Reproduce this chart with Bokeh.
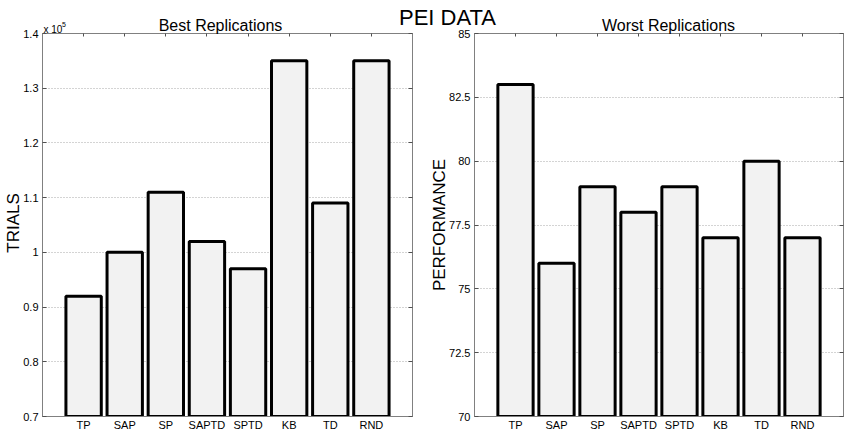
from bokeh.plotting import figure
from bokeh.models import FixedTicker, LinearAxis, CustomJSTickFormatter, Range1d
from bokeh.layouts import row, column
from bokeh.embed import file_html
from bokeh.resources import INLINE
from bokeh.core.properties import value

# ---------------- data ----------------
methods = ["TP", "SAP", "SP", "SAPTD", "SPTD", "KB", "TD", "RND"]
trials = [92000, 100000, 111000, 102000, 97000, 135000, 109000, 135000]
performance = [83, 76, 79, 78, 79, 77, 80, 77]

trial_ticks = [70000, 80000, 90000, 100000, 110000, 120000, 130000, 140000]
trial_tick_labels = ["0.7", "0.8", "0.9", "1", "1.1", "1.2", "1.3", "1.4"]
perf_ticks = [70, 72.5, 75, 77.5, 80, 82.5, 85]
perf_tick_labels = ["70", "72.5", "75", "77.5", "80", "82.5", "85"]

title_main = "PEI DATA"
title_left = "Best Replications"
title_right = "Worst Replications"
ylabel_left = "TRIALS"
ylabel_right = "PERFORMANCE"
exp_base = "x 10"
exp_power = "5"

# ---------------- style ----------------
FONT = "Liberation Sans"
W, H = 850, 434
BORDER_TOP, BORDER_BOTTOM = 33, 18
AXIS_COL = "#808080"
TICK_COL = "#505050"
BAR_FILL = "#f2f2f2"

positions = list(range(1, len(methods) + 1))
x_lo, x_hi = 0, len(methods) + 1


def make_fig(width, bl, br, ylo, yhi, yticks, ylabels, tops):
    p = figure(width=width, height=H, output_backend="svg", toolbar_location=None,
               x_range=Range1d(x_lo, x_hi), y_range=Range1d(ylo, yhi),
               min_border_left=bl, min_border_right=br,
               min_border_top=BORDER_TOP, min_border_bottom=BORDER_BOTTOM,
               background_fill_color="white", border_fill_color="white",
               outline_line_color=AXIS_COL)
    p.vbar(x=positions, top=tops, bottom=0, width=0.86,
           fill_color=BAR_FILL, line_color="black", line_width=3)
    xt = FixedTicker(ticks=positions)
    yt = FixedTicker(ticks=yticks)
    xa = p.xaxis[0]
    xa.ticker = xt
    xa.major_label_overrides = {pos: m for pos, m in zip(positions, methods)}
    xa.major_tick_in = 0
    xa.major_tick_out = 0
    xa.minor_tick_in = xa.minor_tick_out = 0
    xa.major_label_standoff = 2
    ya = p.yaxis[0]
    ya.ticker = yt
    ya.major_label_overrides = {t: l for t, l in zip(yticks, ylabels)}
    ya.major_tick_in = 4
    ya.major_tick_out = 0
    ya.minor_tick_in = ya.minor_tick_out = 0
    ya.major_label_standoff = 4
    for a in (xa, ya):
        a.axis_line_color = AXIS_COL
        a.major_tick_line_color = TICK_COL
        a.major_label_text_font = FONT
        a.major_label_text_font_size = "11px"
        a.major_label_text_color = "black"
    empty = CustomJSTickFormatter(code="return ''")
    top = LinearAxis(ticker=FixedTicker(ticks=positions), formatter=empty,
                     major_tick_in=3, major_tick_out=0, minor_tick_in=0, minor_tick_out=0,
                     axis_line_color=AXIS_COL, major_tick_line_color=TICK_COL,
                     major_label_standoff=0)
    right = LinearAxis(ticker=FixedTicker(ticks=yticks), formatter=empty,
                       major_tick_in=4, major_tick_out=0, minor_tick_in=0, minor_tick_out=0,
                       axis_line_color=AXIS_COL, major_tick_line_color=TICK_COL,
                       major_label_standoff=0)
    p.add_layout(top, "above")
    p.add_layout(right, "right")
    p.xgrid.visible = False
    p.ygrid.ticker = yt
    p.ygrid.grid_line_color = "#a8a8a8"
    p.ygrid.grid_line_dash = "1 2"
    p.ygrid.grid_line_width = 1
    return p


# left panel: page x 0..433, frame 42..412
p1 = make_fig(433, 42, 21, trial_ticks[0], trial_ticks[-1], trial_ticks, trial_tick_labels, trials)
# right panel: page x 433..850, frame 474..843
p2 = make_fig(417, 41, 7, perf_ticks[0], perf_ticks[-1], perf_ticks, perf_tick_labels, performance)

charts = row(p1, p2)

# transparent overlay for titles / axis labels, in page pixel coordinates
ov = figure(width=W, height=H, output_backend="svg", toolbar_location=None,
            x_range=Range1d(0, W), y_range=Range1d(H, 0),
            x_axis_type=None, y_axis_type=None, min_border=0,
            outline_line_color=None, background_fill_alpha=0, border_fill_alpha=0)
ov.grid.visible = False
ov.margin = (-H, 0, 0, 0)


def txt(x, y, t, size, align="center", angle=0.0):
    ov.text(x=[x], y=[y], text=[t], text_font=value(FONT), text_font_size=size,
            text_align=align, text_baseline="middle", angle=angle, text_color="black")


txt(447, 16.5, title_main, "22px")
txt(220, 24.5, title_left, "16px")
txt(668, 24.5, title_right, "16px")
txt(13, 222.5, ylabel_left, "17px", angle=1.5707963)
txt(438.5, 224.5, ylabel_right, "17px", angle=1.5707963)
txt(43, 28.5, exp_base, "10px", align="left")
txt(61.5, 23.5, exp_power, "7px", align="left")

layout = column(charts, ov)

with open("out.html", "w") as f:
    f.write(file_html(layout, INLINE))
